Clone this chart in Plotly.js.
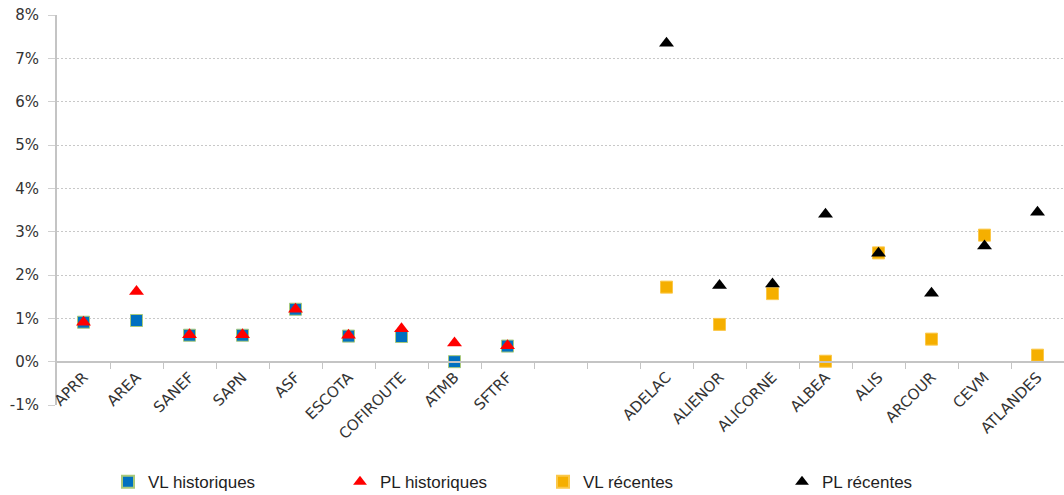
<!DOCTYPE html>
<html>
<head>
<meta charset="utf-8">
<script src="https://cdn.plot.ly/plotly-3.0.1.min.js"></script>
<style>
  html, body { margin: 0; padding: 0; background: #ffffff; }
  #chart { width: 1064px; height: 495px; }
</style>
</head>
<body>
<div id="chart"></div>
<script>
// Concessions (two blank slots separate the historical group from the recent one)
const categories = ['APRR', 'AREA', 'SANEF', 'SAPN', 'ASF', 'ESCOTA', 'COFIROUTE', 'ATMB', 'SFTRF',
  '', '',
  'ADELAC', 'ALIENOR', 'ALICORNE', 'ALBEA', 'ALIS', 'ARCOUR', 'CEVM', 'ATLANDES'];

// Values in %
const vlHistoriques = [0.91, 0.95, 0.61, 0.61, 1.21, 0.59, 0.58, 0.00, 0.36,
  null, null, null, null, null, null, null, null, null, null];
const plHistoriques = [0.91, 1.62, 0.62, 0.62, 1.21, 0.61, 0.76, 0.43, 0.37,
  null, null, null, null, null, null, null, null, null, null];
const vlRecentes = [null, null, null, null, null, null, null, null, null,
  null, null, 1.72, 0.86, 1.57, 0.01, 2.51, 0.52, 2.92, 0.15];
const plRecentes = [null, null, null, null, null, null, null, null, null,
  null, null, 7.35, 1.76, 1.79, 3.40, 2.50, 1.58, 2.67, 3.45];

const yTickValues = [-1, 0, 1, 2, 3, 4, 5, 6, 7, 8];
const yTickLabels = ['-1%', '0%', '1%', '2%', '3%', '4%', '5%', '6%', '7%', '8%'];
const yMin = -1, yMax = 8;

const xIdx = categories.map((_, i) => i);
const boundaries = categories.slice(0, -1).map((_, i) => i + 0.5);

function series(name, values, symbol, color, lineColor, legendId) {
  return {
    type: 'scatter', mode: 'markers', name: name, x: xIdx, y: values,
    legend: legendId,
    marker: { symbol: symbol, size: symbol === 'square' ? 12 : 13, color: color,
      line: { color: lineColor, width: symbol === 'square' ? 1 : 0 } },
    hoverinfo: 'skip'
  };
}

const traces = [
  series('VL historiques', vlHistoriques, 'square', '#0070C0', '#A9C97A', 'legend'),
  series('PL historiques', plHistoriques, 'triangle-up', '#FF0000', '#FF0000', 'legend2'),
  series('VL récentes', vlRecentes, 'square', '#F5AF00', '#FBC84A', 'legend3'),
  series('PL récentes', plRecentes, 'triangle-up', '#000000', '#000000', 'legend4')
];

const textFont = { family: 'DejaVu Sans, sans-serif', size: 15, color: '#333333' };
const legendFont = { family: 'Liberation Sans, Arial, sans-serif', size: 17, color: '#1f1f1f' };

function legendAt(xPaper) {
  return { orientation: 'h', x: xPaper, xanchor: 'left', y: -0.198, yanchor: 'middle',
    font: legendFont, bgcolor: 'rgba(0,0,0,0)', borderwidth: 0, itemwidth: 30,
    itemsizing: 'constant', itemclick: false, itemdoubleclick: false };
}

const layout = {
  width: 1064, height: 495,
  margin: { l: 57, r: 0, t: 15, b: 90, autoexpand: false },
  paper_bgcolor: '#ffffff', plot_bgcolor: '#ffffff',
  font: textFont,
  showlegend: true,
  xaxis: {
    type: 'linear', range: [-0.5, categories.length - 0.5],
    anchor: 'free', position: (0 - yMin) / (yMax - yMin),
    tickmode: 'array', tickvals: xIdx, ticktext: categories,
    tickangle: -45, ticks: '', showgrid: false, zeroline: false,
    showline: true, linecolor: '#C4C4C4', linewidth: 2,
    tickfont: textFont, automargin: false,
    minor: { tickmode: 'array', tickvals: boundaries, ticks: 'outside', ticklen: 6,
      tickcolor: '#C4C4C4', tickwidth: 1, showgrid: false }
  },
  yaxis: {
    range: [yMin, yMax], tickmode: 'array', tickvals: yTickValues, ticktext: yTickLabels,
    showgrid: true, gridcolor: '#C8C8C8', gridwidth: 1, griddash: '2px,2px',
    zeroline: false, showline: true, linecolor: '#C4C4C4', linewidth: 2,
    ticks: 'outside', ticklen: 7, tickcolor: '#D0D0D0', tickwidth: 1, automargin: false,
    ticklabelstandoff: 6, tickfont: { family: 'DejaVu Sans, sans-serif', size: 15, color: '#333333' }
  },
  legend: legendAt((148 - 40 - 57) / 1007),
  legend2: legendAt((380 - 40 - 57) / 1007),
  legend3: legendAt((583 - 40 - 57) / 1007),
  legend4: legendAt((822 - 40 - 57) / 1007)
};

Plotly.newPlot('chart', traces, layout, { displayModeBar: false, staticPlot: true });
</script>
</body>
</html>
